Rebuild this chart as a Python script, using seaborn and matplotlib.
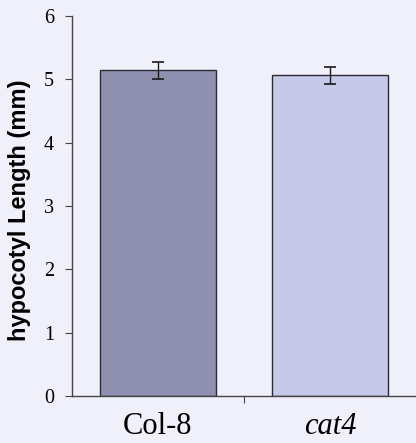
import matplotlib
matplotlib.use("Agg")
import matplotlib.pyplot as plt
import seaborn as sns
import pandas as pd

# values
genotypes = ["Col-8", "cat4"]
lengths = [5.14, 5.06]
errors = [0.13, 0.14]
bar_colors = ["#9091b1", "#c7c9ea"]

df = pd.DataFrame({"genotype": genotypes, "length": lengths})

sns.set_style("ticks")
bg = "#f0f0fb"

fig = plt.figure(figsize=(4.16, 4.43), dpi=100, facecolor=bg)
ax = fig.add_axes([0.173, 0.106, 0.827, 0.858], facecolor=bg)

sns.barplot(data=df, x="genotype", y="length", hue="genotype",
            palette=bar_colors, saturation=1, width=0.675, edgecolor="#2a2a35",
            linewidth=1.0, legend=False, ax=ax)
ax.errorbar(x=range(len(genotypes)), y=df["length"], yerr=errors,
            fmt="none", ecolor="#1a1a1a", elinewidth=1.0, capsize=4, capthick=1.2)

ax.set_xlim(-0.5, 1.5)
ax.set_ylim(0, 6)
ax.set_yticks(range(0, 7))
ax.set_yticklabels([str(v) for v in range(0, 7)],
                   fontfamily="Liberation Serif", fontsize=14.5, color="black")
ax.set_ylabel("hypocotyl Length (mm)", fontfamily="Liberation Sans",
              fontweight="bold", fontsize=17, color="black")
ax.yaxis.set_label_coords(-0.118, 0.49)
ax.set_xlabel("")

# category labels sit between ticks, ticks sit between categories
ax.set_xticks([0.5])
ax.set_xticklabels([""])
ax.tick_params(axis="x", length=5, color="#444444")
ax.tick_params(axis="y", length=5, color="#444444", pad=8)
for i, g in enumerate(genotypes):
    ax.text(i, -0.25, g, ha="center", va="top", fontsize=22,
            fontfamily="Liberation Serif", color="black",
            fontstyle="italic" if g == "cat4" else "normal",
            transform=ax.transData)

for s in ["top", "right"]:
    ax.spines[s].set_visible(False)
for s in ["left", "bottom"]:
    ax.spines[s].set_color("#444444")
    ax.spines[s].set_linewidth(1.0)

plt.savefig("out.png", dpi=100, facecolor=bg)
